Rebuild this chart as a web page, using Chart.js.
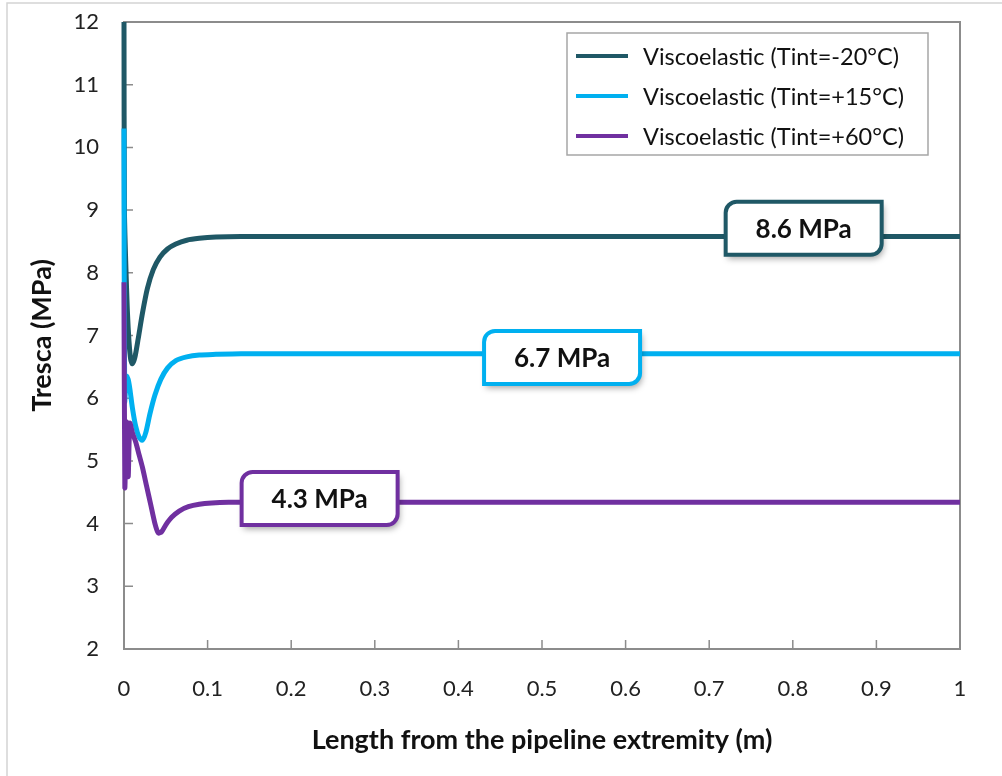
<!DOCTYPE html>
<html>
<head>
<meta charset="utf-8">
<title>Tresca vs length</title>
<script src="https://cdn.jsdelivr.net/npm/chart.js@4.4.1/dist/chart.umd.min.js"></script>
<style>
  html, body { margin: 0; padding: 0; background: #fff; }
  #wrap { width: 1002px; height: 776px; position: relative; }
</style>
</head>
<body>
<div id="wrap"><canvas id="chart"></canvas></div>
<script>
'use strict';

/* ---------- Data ---------- */
const seriesNames = ['Viscoelastic (Tint=-20°C)', 'Viscoelastic (Tint=+15°C)', 'Viscoelastic (Tint=+60°C)'];
const seriesColors = ['#1f5866', '#00b0f0', '#7030a0'];

// Tint = -20°C
const xCold = [0, 0.0005, 0.002, 0.004, 0.006, 0.008, 0.010, 0.013, 0.017, 0.022, 0.028, 0.035, 0.043, 0.052, 0.062, 0.075, 0.09, 0.11, 0.14, 0.2, 0.4, 0.6, 0.8, 1.0];
const yCold = [12, 9.0, 8.2, 7.4, 6.9, 6.62, 6.55, 6.65, 6.95, 7.35, 7.75, 8.05, 8.25, 8.38, 8.46, 8.52, 8.55, 8.57, 8.58, 8.58, 8.58, 8.58, 8.58, 8.58];

// Tint = +15°C
const xMid = [0, 0.0008, 0.003, 0.005, 0.007, 0.010, 0.014, 0.018, 0.022, 0.026, 0.031, 0.037, 0.044, 0.052, 0.062, 0.075, 0.09, 0.11, 0.14, 0.2, 0.5, 1.0];
const yMid = [10.3, 5.95, 6.35, 6.3, 6.15, 5.85, 5.55, 5.38, 5.33, 5.45, 5.75, 6.05, 6.3, 6.48, 6.6, 6.66, 6.69, 6.7, 6.71, 6.71, 6.71, 6.71];

// Tint = +60°C
const xHot = [0, 0.001, 0.003, 0.005, 0.007, 0.010, 0.014, 0.018, 0.022, 0.027, 0.032, 0.037, 0.041, 0.045, 0.050, 0.057, 0.066, 0.077, 0.09, 0.105, 0.125, 0.16, 0.3, 0.6, 1.0];
const yHot = [7.85, 4.58, 5.62, 4.75, 5.6, 5.45, 5.3, 5.1, 4.9, 4.6, 4.3, 4.0, 3.85, 3.87, 3.98, 4.1, 4.2, 4.27, 4.31, 4.33, 4.34, 4.34, 4.34, 4.34, 4.34];

// Plateau call-outs
const calloutTexts = ['8.6 MPa', '6.7 MPa', '4.3 MPa'];
const calloutX = [0.813, 0.524, 0.234];
const calloutY = [8.71, 6.65, 4.40];

// Axis ticks
const xTickLabels = ['0', '0.1', '0.2', '0.3', '0.4', '0.5', '0.6', '0.7', '0.8', '0.9', '1'];
const yTickLabels = ['2', '3', '4', '5', '6', '7', '8', '9', '10', '11', '12'];

const FONT = 'Lato, "Open Sans", sans-serif';
const AXIS_GREY = '#8c8c8c';

function toPoints(xs, ys) {
  return xs.map((x, i) => ({ x, y: ys[i] }));
}

/* ---------- Plugins ---------- */
const framePlugin = {
  id: 'frame',
  beforeDraw(chart) {
    const ctx = chart.ctx;
    ctx.save();
    ctx.fillStyle = '#fff';
    ctx.fillRect(0, 0, chart.width, chart.height);
    ctx.strokeStyle = '#d4d4d4';
    ctx.lineWidth = 1.5;
    ctx.strokeRect(7, 3, chart.width + 20, chart.height + 20);
    ctx.restore();
  },
};

// plot box with inward tick marks
const plotBoxPlugin = {
  id: 'plotBox',
  beforeDatasetsDraw(chart) {
    const { ctx, chartArea: a, scales } = chart;
    ctx.save();
    ctx.strokeStyle = AXIS_GREY;
    ctx.lineWidth = 2;
    ctx.strokeRect(a.left, a.top, a.right - a.left, a.bottom - a.top);
    ctx.lineWidth = 1.5;
    ctx.beginPath();
    scales.x.ticks.forEach(t => {
      const px = scales.x.getPixelForValue(t.value);
      ctx.moveTo(px, a.bottom);
      ctx.lineTo(px, a.bottom - 9);
    });
    scales.y.ticks.forEach(t => {
      const py = scales.y.getPixelForValue(t.value);
      ctx.moveTo(a.left, py);
      ctx.lineTo(a.left + 9, py);
    });
    ctx.stroke();
    ctx.restore();
  },
};

// boxed value labels on the plateaus
const calloutPlugin = {
  id: 'callouts',
  afterDatasetsDraw(chart) {
    const { ctx, scales } = chart;
    const w = 156, h = 53, r = 11;
    calloutTexts.forEach((txt, i) => {
      const cx = scales.x.getPixelForValue(calloutX[i]);
      const cy = scales.y.getPixelForValue(calloutY[i]);
      const x = cx - w / 2, y = cy - h / 2;
      ctx.save();
      ctx.beginPath();
      ctx.moveTo(x + r, y);
      ctx.lineTo(x + w, y);
      ctx.lineTo(x + w, y + h - r);
      ctx.arcTo(x + w, y + h, x + w - r, y + h, r);
      ctx.lineTo(x, y + h);
      ctx.lineTo(x, y + r);
      ctx.arcTo(x, y, x + r, y, r);
      ctx.closePath();
      ctx.shadowColor = 'rgba(0,0,0,0.35)';
      ctx.shadowBlur = 6;
      ctx.shadowOffsetX = 2;
      ctx.shadowOffsetY = 4;
      ctx.fillStyle = '#fff';
      ctx.fill();
      ctx.shadowColor = 'transparent';
      ctx.strokeStyle = seriesColors[i];
      ctx.lineWidth = 4;
      ctx.stroke();
      ctx.fillStyle = '#111';
      ctx.font = `bold 26px ${FONT}`;
      ctx.textAlign = 'center';
      ctx.textBaseline = 'middle';
      ctx.fillText(txt, cx, cy + 1);
      ctx.restore();
    });
  },
};

// legend box in the top-right corner
const legendBoxPlugin = {
  id: 'legendBox',
  afterDraw(chart) {
    const ctx = chart.ctx;
    ctx.save();
    ctx.strokeStyle = '#a6a6a6';
    ctx.lineWidth = 1.5;
    ctx.strokeRect(567, 33, 361, 122);
    ctx.font = `23.5px ${FONT}`;
    ctx.textBaseline = 'middle';
    ctx.fillStyle = '#111';
    chart.data.datasets.forEach((ds, i) => {
      const y = 56 + i * 40;
      ctx.strokeStyle = ds.borderColor;
      ctx.lineWidth = 4;
      ctx.beginPath();
      ctx.moveTo(576, y);
      ctx.lineTo(628, y);
      ctx.stroke();
      ctx.fillText(ds.label, 643, y + 1);
    });
    ctx.restore();
  },
};

/* ---------- Chart ---------- */
const xsAll = [xCold, xMid, xHot];
const ysAll = [yCold, yMid, yHot];

const datasets = seriesNames.map((name, i) => ({
  label: name,
  data: toPoints(xsAll[i], ysAll[i]),
  borderColor: seriesColors[i],
  backgroundColor: seriesColors[i],
  borderWidth: 5,
  pointRadius: 0,
  showLine: true,
  tension: 0.25,
  fill: false,
  clip: 4,
  order: 3 - i,   // later series drawn on top
}));

new Chart(document.getElementById('chart'), {
  type: 'scatter',
  data: { datasets },
  options: {
    responsive: true,
    maintainAspectRatio: false,
    animation: false,
    layout: { padding: { left: 0, top: 22, right: 42, bottom: 0 } },
    plugins: {
      legend: { display: false },
      tooltip: { enabled: false },
    },
    scales: {
      x: {
        type: 'linear',
        min: 0,
        max: 1,
        afterFit(scale) { scale.height = 127; },
        border: { display: false },
        grid: { display: false, drawTicks: false },
        ticks: {
          stepSize: 0.1,
          padding: 27,
          color: '#222',
          font: { family: FONT, size: 22 },
          maxRotation: 0,
          callback(value, index) { return xTickLabels[index]; },
        },
        title: {
          display: true,
          text: 'Length from the pipeline extremity (m)',
          color: '#111',
          font: { family: FONT, size: 27, weight: 'bold' },
          padding: { top: 0, bottom: 20 },
        },
      },
      y: {
        type: 'linear',
        min: 2,
        max: 12,
        afterFit(scale) {
          scale.width = 124;
          scale.paddingTop = 0;   // let layout padding set the top edge
        },
        border: { display: false },
        grid: { display: false, drawTicks: false },
        ticks: {
          stepSize: 1,
          padding: 25,
          color: '#222',
          font: { family: FONT, size: 22 },
          callback(value, index) { return yTickLabels[index]; },
        },
        title: {
          display: true,
          text: 'Tresca (MPa)',
          color: '#111',
          font: { family: FONT, size: 27, weight: 'bold' },
          padding: { top: 26, bottom: 0 },
        },
      },
    },
  },
  plugins: [framePlugin, plotBoxPlugin, calloutPlugin, legendBoxPlugin],
});
</script>
</body>
</html>
